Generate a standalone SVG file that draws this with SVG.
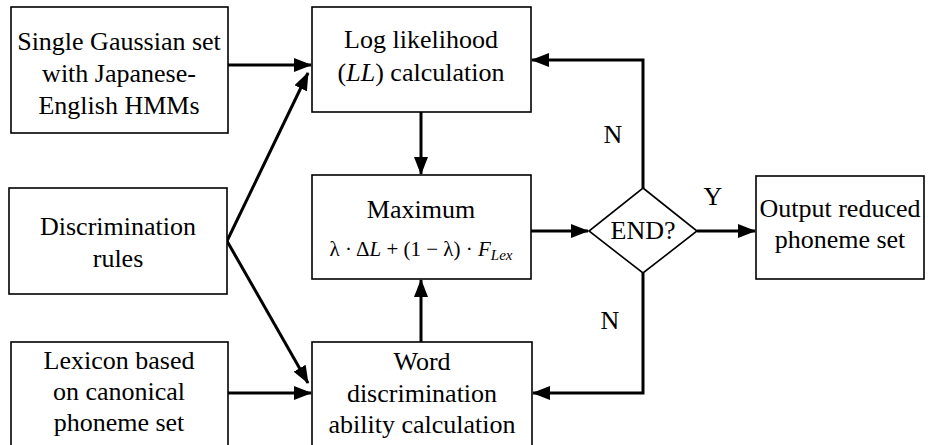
<svg xmlns="http://www.w3.org/2000/svg" width="929" height="445" viewBox="0 0 929 445">
  <style>
    .box { fill: #ffffff; stroke: #000000; stroke-width: 1.6; }
    .lbl { font-family: 'Liberation Serif', 'Times New Roman', serif; font-size: 26px; fill: #000000; text-anchor: middle; }
    .math { font-family: 'Liberation Serif', 'Times New Roman', serif; font-size: 21px; fill: #000000; text-anchor: middle; }
    .edge { fill: none; stroke: #000000; stroke-width: 3; marker-end: url(#head); }
  </style>
  <defs>
    <marker id="head" markerUnits="userSpaceOnUse" markerWidth="18" markerHeight="14" viewBox="0 0 18 14" refX="17" refY="7" orient="auto">
      <path d="M0,0 L18,7 L0,14 Z" fill="#000000"/>
    </marker>
  </defs>
  <rect width="929" height="445" fill="#ffffff"/>

  <g id="connectors">
    <line class="edge" x1="228" y1="65" x2="311" y2="65"/>
    <line class="edge" x1="227" y1="241" x2="308" y2="73"/>
    <line class="edge" x1="227" y1="241" x2="308" y2="383"/>
    <line class="edge" x1="228" y1="393" x2="311" y2="393"/>
    <line class="edge" x1="421" y1="112" x2="421" y2="174"/>
    <line class="edge" x1="421" y1="342" x2="421" y2="280"/>
    <line class="edge" x1="531" y1="231" x2="588" y2="231"/>
    <polyline class="edge" points="643,188 643,60 532,60"/>
    <polyline class="edge" points="643,273 643,393 533,393"/>
    <line class="edge" x1="697" y1="231" x2="755" y2="231"/>
  </g>

  <g id="gaussian">
    <rect class="box" x="11" y="7" width="217" height="126"/>
    <text class="lbl" x="119" y="50">Single Gaussian set</text>
    <text class="lbl" x="119" y="82">with Japanese-</text>
    <text class="lbl" x="119" y="114">English HMMs</text>
  </g>

  <g id="rules">
    <rect class="box" x="9" y="188" width="218" height="106"/>
    <text class="lbl" x="118" y="235">Discrimination</text>
    <text class="lbl" x="118" y="267">rules</text>
  </g>

  <g id="lexicon">
    <rect class="box" x="11" y="342" width="217" height="106"/>
    <text class="lbl" x="119" y="369">Lexicon based</text>
    <text class="lbl" x="119" y="400">on canonical</text>
    <text class="lbl" x="119" y="431">phoneme set</text>
  </g>

  <g id="loglikelihood">
    <rect class="box" x="312" y="7" width="219" height="105"/>
    <text class="lbl" x="421" y="48">Log likelihood</text>
    <text class="lbl" x="421" y="81">(<tspan font-style="italic">LL</tspan>) calculation</text>
  </g>

  <g id="maximum">
    <rect class="box" x="312" y="175" width="219" height="104"/>
    <text class="lbl" x="421" y="218">Maximum</text>
    <text class="math" x="421" y="256">λ · Δ<tspan font-style="italic">L</tspan> + (1 − λ) · <tspan font-style="italic">F</tspan><tspan font-style="italic" font-size="15" dy="4">Lex</tspan></text>
  </g>

  <g id="word">
    <rect class="box" x="312" y="342" width="220" height="106"/>
    <text class="lbl" x="422" y="370">Word</text>
    <text class="lbl" x="422" y="402">discrimination</text>
    <text class="lbl" x="422" y="433">ability calculation</text>
  </g>

  <g id="end">
    <polygon class="box" points="643,188 697,231 643,273 589,231"/>
    <text class="lbl" x="643" y="239">END?</text>
  </g>

  <g id="output">
    <rect class="box" x="756" y="176" width="168" height="103"/>
    <text class="lbl" x="840" y="217">Output reduced</text>
    <text class="lbl" x="840" y="248">phoneme set</text>
  </g>

  <g id="edge-labels">
    <text class="lbl" x="613" y="143">N</text>
    <text class="lbl" x="610" y="329">N</text>
    <text class="lbl" x="713" y="205">Y</text>
  </g>
</svg>
